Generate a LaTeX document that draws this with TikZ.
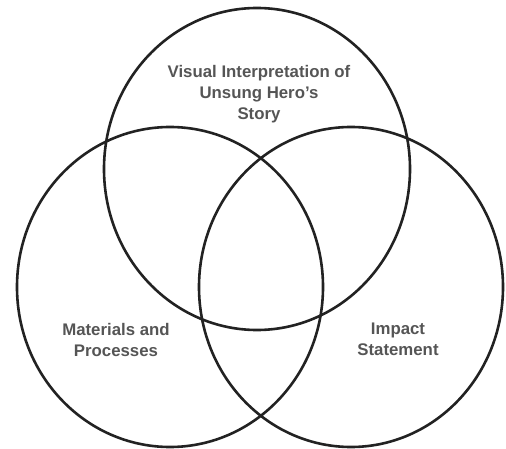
\documentclass[tikz,border=0pt]{standalone}
\usepackage{fontspec}
\setmainfont{Liberation Sans}
\usepackage{xcolor}
\definecolor{labelgray}{HTML}{555555}
\definecolor{ringcol}{HTML}{222222}

\begin{document}
\begin{tikzpicture}[x=1pt,y=-1pt,
    ring/.style={draw=ringcol,line width=2.6pt},
    lbl/.style={align=center,text=labelgray,font=\bfseries\fontsize{16.8}{21}\selectfont}]
    \useasboundingbox (0,0) rectangle (506,449);
    \draw[ring] (257,169) ellipse (153pt and 161pt);
    \draw[ring] (170,287) ellipse (153pt and 160pt);
    \draw[ring] (351,287) ellipse (152pt and 160pt);

    \node[lbl] (story) at (259,94) {Visual Interpretation of\\Unsung Hero's\\Story};
    \node[lbl] (materials) at (116,339.5) {Materials and\\Processes};
    \node[lbl] (impact) at (398,339.5) {Impact\\Statement};
\end{tikzpicture}
\end{document}
